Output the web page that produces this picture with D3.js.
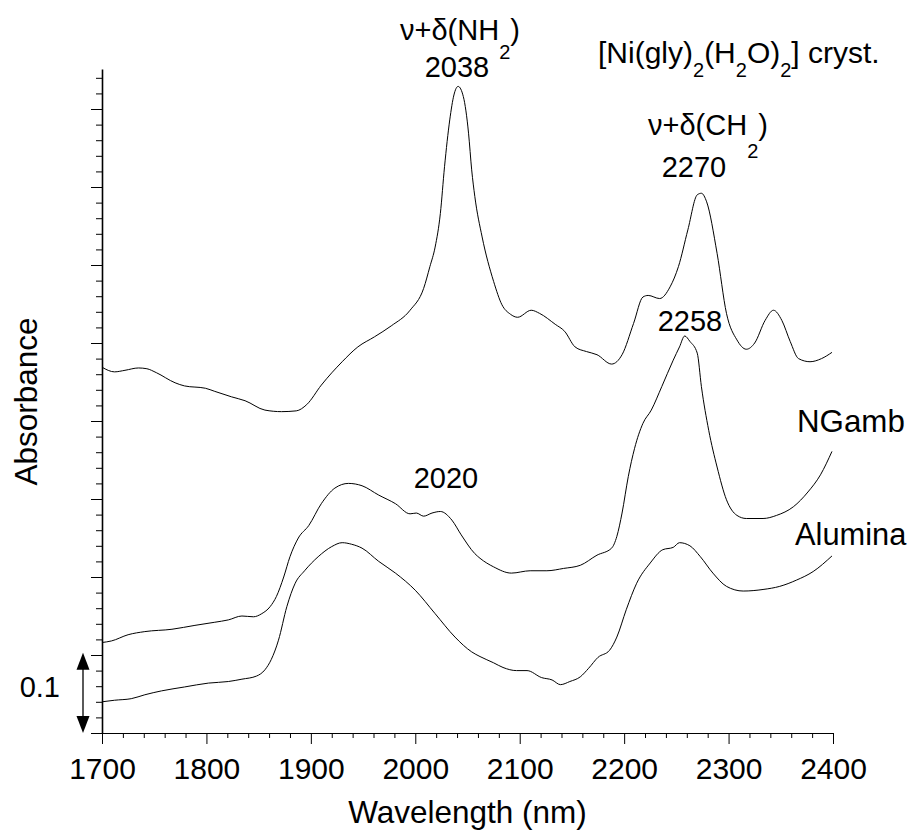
<!DOCTYPE html>
<html>
<head>
<meta charset="utf-8">
<script src="https://cdn.jsdelivr.net/npm/d3@7"></script>
<style>
  body { margin: 0; background: #fff; }
  svg { display: block; }
  text { font-family: "Liberation Sans", Arial, sans-serif; fill: #000; }
</style>
</head>
<body>
<svg id="chart" width="911" height="833"></svg>
<script>
// spectra: [wavelength nm, absorbance (offset)]
const crystal = [
  [1700,0.469],[1712,0.463],[1722,0.465],[1735,0.468],[1743,0.467],[1752,0.462],
  [1770,0.449],[1779,0.445],[1799,0.442],[1808,0.438],[1824,0.431],[1837,0.426],
  [1856,0.414],[1872,0.412],[1886,0.413],[1896,0.421],[1910,0.446],[1930,0.476],
  [1945,0.495],[1961,0.508],[1977,0.522],[1995,0.542],[2008,0.570],[2014,0.598],
  [2019,0.623],[2024,0.666],[2028,0.726],[2033,0.786],[2037,0.818],[2041,0.829],
  [2046,0.816],[2051,0.769],[2054,0.722],[2057,0.688],[2064,0.636],[2075,0.579],
  [2083,0.549],[2091,0.537],[2098,0.533],[2111,0.542],[2119,0.538],[2134,0.524],
  [2143,0.515],[2153,0.495],[2164,0.489],[2174,0.485],[2188,0.473],[2198,0.485],
  [2209,0.525],[2218,0.559],[2223,0.561],[2234,0.557],[2244,0.572],[2252,0.598],
  [2261,0.645],[2270,0.690],[2274,0.692],[2279,0.681],[2289,0.615],[2298,0.538],
  [2308,0.504],[2317,0.492],[2325,0.500],[2335,0.529],[2343,0.542],[2351,0.529],
  [2359,0.502],[2367,0.480],[2378,0.476],[2389,0.480],[2399,0.488]
];

const ngamb = [
  [1700,0.116],[1709,0.118],[1725,0.126],[1741,0.130],[1767,0.133],[1789,0.138],
  [1808,0.142],[1821,0.145],[1834,0.150],[1845,0.149],[1853,0.153],[1861,0.162],
  [1867,0.175],[1874,0.200],[1880,0.226],[1888,0.250],[1898,0.266],[1910,0.294],
  [1923,0.314],[1936,0.320],[1949,0.317],[1965,0.305],[1981,0.294],[1995,0.281],
  [2001,0.282],[2008,0.278],[2016,0.282],[2024,0.284],[2035,0.273],[2044,0.254],
  [2057,0.230],[2062,0.224],[2075,0.213],[2092,0.205],[2110,0.208],[2126,0.208],
  [2142,0.211],[2158,0.215],[2174,0.228],[2188,0.237],[2193,0.252],[2198,0.282],
  [2204,0.329],[2210,0.365],[2218,0.397],[2226,0.414],[2236,0.444],[2247,0.478],
  [2253,0.495],[2258,0.509],[2263,0.502],[2270,0.487],[2274,0.444],[2281,0.388],
  [2289,0.341],[2298,0.299],[2308,0.279],[2317,0.275],[2333,0.275],[2346,0.279],
  [2362,0.290],[2376,0.309],[2388,0.331],[2399,0.361]
];

const alumina = [
  [1700,0.040],[1712,0.042],[1728,0.044],[1741,0.049],[1757,0.054],[1779,0.059],
  [1802,0.064],[1821,0.066],[1834,0.069],[1848,0.073],[1856,0.081],[1862,0.094],
  [1869,0.119],[1877,0.162],[1885,0.192],[1894,0.208],[1907,0.226],[1920,0.239],
  [1930,0.244],[1939,0.242],[1949,0.237],[1965,0.220],[1981,0.205],[2000,0.183],
  [2019,0.153],[2038,0.123],[2054,0.104],[2062,0.098],[2075,0.090],[2084,0.084],
  [2097,0.080],[2107,0.080],[2121,0.071],[2131,0.068],[2139,0.062],[2148,0.066],
  [2158,0.072],[2166,0.083],[2175,0.097],[2186,0.106],[2193,0.123],[2202,0.158],
  [2212,0.192],[2225,0.218],[2237,0.235],[2247,0.238],[2253,0.244],[2263,0.240],
  [2273,0.226],[2285,0.205],[2298,0.188],[2314,0.182],[2333,0.184],[2349,0.188],
  [2365,0.196],[2381,0.207],[2399,0.227]
];

const xTicks = [1700, 1800, 1900, 2000, 2100, 2200, 2300, 2400];

const width = 911, height = 833;
const plot = {left: 102, right: 833, top: 69, bottom: 733};

const svg = d3.select("#chart");

const x = d3.scaleLinear().domain([1700, 2400]).range([plot.left, plot.right]);
const y = d3.scaleLinear().domain([0, 0.8513]).range([plot.bottom, plot.top]);

// x axis: minor ticks every 20 nm, major every 100
const xMinor = d3.range(1700, 2401, 20).filter(d => d % 100 !== 0);
svg.append("g")
    .attr("transform", `translate(0,${plot.bottom})`)
    .call(d3.axisBottom(x).tickValues(xMinor).tickSize(5).tickSizeOuter(0).tickFormat(""))
    .call(g => g.select(".domain").attr("stroke-width", 1.2));
svg.append("g")
    .attr("transform", `translate(0,${plot.bottom})`)
    .call(d3.axisBottom(x).tickValues(xTicks).tickSize(11).tickSizeOuter(0).tickPadding(14)
        .tickFormat(d3.format("d")))
    .call(g => g.select(".domain").remove())
    .call(g => g.selectAll("text").attr("font-size", 30).attr("font-family", null));

// y axis: no labels, minor 0.02, major 0.1
const yMinor = d3.range(0, 0.85, 0.02).filter((d, i) => i % 5 !== 0);
const yMajor = d3.range(0, 0.85, 0.1);
svg.append("g")
    .attr("transform", `translate(${plot.left},0)`)
    .call(d3.axisLeft(y).tickValues(yMinor).tickSize(6).tickSizeOuter(0).tickFormat(""))
    .call(g => g.select(".domain").attr("stroke-width", 1.6));
svg.append("g")
    .attr("transform", `translate(${plot.left},0)`)
    .call(d3.axisLeft(y).tickValues(yMajor).tickSize(11).tickSizeOuter(0).tickFormat(""))
    .call(g => g.select(".domain").remove());

// spectra
const line = d3.line()
    .x(d => x(d[0]))
    .y(d => y(d[1]))
    .curve(d3.curveMonotoneX);

[crystal, ngamb, alumina].forEach(s => {
  svg.append("path")
      .datum(s)
      .attr("fill", "none")
      .attr("stroke", "#000")
      .attr("stroke-width", 1)
      .attr("d", line);
});

// axis titles
svg.append("text")
    .attr("x", x(2050))
    .attr("y", 823)
    .attr("text-anchor", "middle")
    .attr("font-size", 31.5)
    .text("Wavelength (nm)");

svg.append("text")
    .attr("transform", `translate(37,${y(0.425)}) rotate(-90)`)
    .attr("text-anchor", "middle")
    .attr("font-size", 31.5)
    .text("Absorbance");

// plain annotations
const notes = [
  {t: "2038", x: 457, y: 77},
  {t: "2270", x: 694, y: 177},
  {t: "2258", x: 690, y: 331},
  {t: "2020", x: 446, y: 488}
];
notes.forEach(n => {
  svg.append("text")
      .attr("x", n.x).attr("y", n.y)
      .attr("text-anchor", "middle")
      .attr("font-size", 29)
      .text(n.t);
});

svg.append("text").attr("x", 797).attr("y", 432).attr("font-size", 31.3).text("NGamb");
svg.append("text").attr("x", 795).attr("y", 545).attr("font-size", 30.8).text("Alumina");

// labels with subscripts
function subText(xp, yp, size, parts) {
  const t = svg.append("text").attr("x", xp).attr("y", yp).attr("font-size", size);
  let drop = 0;
  parts.forEach(p => {
    const sub = typeof p !== "string";
    const s = t.append("tspan").text(sub ? p.sub : p);
    if (sub) {
      s.attr("font-size", 20);
      if (!drop) { s.attr("dy", p.dy); drop = p.dy; }
    } else if (drop) {
      s.attr("dy", -drop);
      drop = 0;
    }
  });
  return t;
}

subText(400, 40, 29, ["\u03bd+\u03b4(NH", {sub: "2", dy: 19}, ")"]);
subText(648, 135, 29, ["\u03bd+\u03b4(CH", {sub: "2", dy: 23}, ")"]);
subText(598, 63, 30, ["[Ni(gly)", {sub: "2", dy: 14}, "(H", {sub: "2", dy: 14}, "O)", {sub: "2", dy: 14}, "] cryst."]);

// 0.1 scale bar with arrow heads
const bar = svg.append("g");
const bx = 83, yTop = y(0.103), yBot = y(0.0);
bar.append("line")
    .attr("x1", bx).attr("x2", bx)
    .attr("y1", yTop + 14).attr("y2", yBot - 14)
    .attr("stroke", "#000").attr("stroke-width", 1.3);
bar.append("path")
    .attr("d", `M${bx},${yTop} L${bx - 6.5},${yTop + 17} L${bx + 6.5},${yTop + 17} Z`);
bar.append("path")
    .attr("d", `M${bx},${yBot} L${bx - 6.5},${yBot - 17} L${bx + 6.5},${yBot - 17} Z`);
svg.append("text")
    .attr("x", 60).attr("y", 697)
    .attr("text-anchor", "end")
    .attr("font-size", 29)
    .text("0.1");
</script>
</body>
</html>
